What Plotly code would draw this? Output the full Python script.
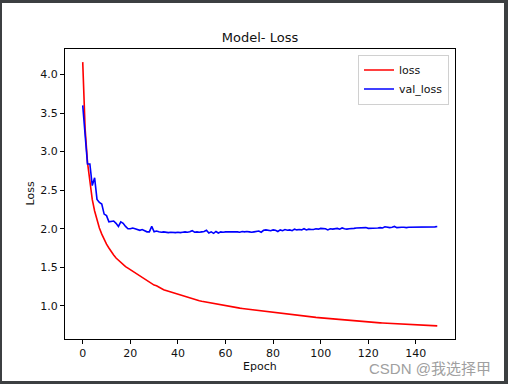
import plotly.graph_objects as go

loss = [
    4.16, 3.30, 2.86, 2.58, 2.38, 2.23, 2.11, 2.01, 1.93, 1.86,
    1.80, 1.75, 1.70, 1.66, 1.62, 1.59, 1.56, 1.53, 1.51, 1.49,
    1.47, 1.45, 1.43, 1.41, 1.38, 1.36, 1.34, 1.32, 1.31, 1.29,
    1.27, 1.26, 1.24, 1.23, 1.21, 1.20, 1.19, 1.18, 1.17, 1.16,
    1.15, 1.14, 1.13, 1.12, 1.11, 1.10, 1.09, 1.085, 1.077, 1.068,
    1.06, 1.054, 1.048, 1.041, 1.035, 1.03, 1.023, 1.017, 1.011, 1.005,
    1.00, 0.995, 0.99, 0.985, 0.98, 0.975, 0.971, 0.967, 0.963, 0.959,
    0.955, 0.951, 0.947, 0.943, 0.939, 0.935, 0.931, 0.927, 0.922, 0.919,
    0.915, 0.911, 0.907, 0.903, 0.899, 0.895, 0.891, 0.887, 0.883, 0.879,
    0.875, 0.872, 0.869, 0.866, 0.863, 0.860, 0.857, 0.854, 0.851, 0.848,
    0.845, 0.842, 0.839, 0.836, 0.833, 0.830, 0.828, 0.826, 0.824, 0.822,
    0.820, 0.817, 0.814, 0.811, 0.808, 0.805, 0.802, 0.799, 0.796, 0.793,
    0.790, 0.788, 0.786, 0.784, 0.782, 0.780, 0.778, 0.776, 0.774, 0.772,
    0.770, 0.768, 0.766, 0.764, 0.762, 0.760, 0.758, 0.757, 0.755, 0.754,
    0.752, 0.751, 0.749, 0.748, 0.746, 0.745, 0.744, 0.743, 0.742, 0.741,
]

val_loss = [
    3.60, 3.25, 2.84, 2.84, 2.56, 2.66, 2.38, 2.34, 2.32, 2.19,
    2.17, 2.09, 2.10, 2.10, 2.07, 2.03, 2.09, 2.07, 2.03, 2.00,
    2.00, 2.01, 2.00, 1.99, 1.98, 1.99, 1.97, 1.96, 1.96, 2.03,
    1.96, 1.97, 1.96, 1.955, 1.96, 1.955, 1.95, 1.955, 1.95, 1.95,
    1.955, 1.95, 1.955, 1.96, 1.955, 1.96, 1.975, 1.955, 1.96, 1.955,
    1.96, 1.965, 1.98, 1.945, 1.96, 1.94, 1.965, 1.945, 1.96, 1.955,
    1.96, 1.96, 1.965, 1.96, 1.965, 1.96, 1.955, 1.965, 1.96, 1.965,
    1.96, 1.955, 1.96, 1.965, 1.97, 1.955, 1.98, 1.985, 1.98, 1.975,
    1.985, 1.98, 1.965, 1.985, 1.975, 1.99, 1.98, 1.985, 1.975, 1.995,
    1.985, 1.99, 1.985, 2.00, 1.985, 1.995, 1.99, 1.99, 2.00, 1.995,
    2.005, 2.005, 2.00, 1.985, 2.00, 1.995, 2.00, 2.005, 1.995, 2.01,
    2.00, 1.995, 2.00, 2.00, 2.005, 2.01, 2.01, 2.015, 2.01, 2.015,
    2.005, 2.005, 2.01, 2.005, 2.01, 2.015, 2.01, 2.025, 2.015, 2.015,
    2.02, 2.03, 2.015, 2.02, 2.02, 2.02, 2.015, 2.02, 2.02, 2.025,
    2.02, 2.025, 2.02, 2.025, 2.02, 2.025, 2.025, 2.02, 2.025, 2.03,
]

epochs = list(range(len(loss)))
x_ticks = [0, 20, 40, 60, 80, 100, 120, 140]
y_ticks = [1.0, 1.5, 2.0, 2.5, 3.0, 3.5, 4.0]

W, H = 508, 384
L, R, T, B = 65, 455, 49, 339

fig = go.Figure()
fig.add_trace(go.Scatter(x=epochs, y=loss, mode="lines", name="loss",
                         line=dict(color="red", width=1.6)))
fig.add_trace(go.Scatter(x=epochs[:len(val_loss)], y=val_loss, mode="lines", name="val_loss",
                         line=dict(color="blue", width=1.6)))

font = "DejaVu Sans"
axis_common = dict(showgrid=False, zeroline=False, showline=True, mirror=True,
                   linecolor="black", linewidth=1, ticks="outside", ticklen=4,
                   tickwidth=1, tickcolor="black",
                   tickfont=dict(family=font, size=11, color="#111"))

fig.update_layout(
    width=W, height=H,
    margin=dict(l=L, r=W - R, t=T, b=H - B, pad=0),
    paper_bgcolor="#3c3f41",
    plot_bgcolor="white",
    font=dict(family=font, size=11, color="#111"),
    title=dict(text="Model- Loss", x=0.5, xref="paper", xanchor="center",
               y=1 - 37 / H, yref="container", yanchor="middle",
               font=dict(family=font, size=13, color="#111")),
    xaxis=dict(range=[-7.45, 156.45], tickvals=x_ticks, **axis_common),
    yaxis=dict(range=[0.571, 4.33], tickvals=y_ticks, tickformat=".1f", **axis_common),
    legend=dict(x=(449 - L) / (R - L), y=(B - 54.5) / (B - T), xanchor="right", yanchor="top",
                bgcolor="rgba(255,255,255,0.9)", bordercolor="#d0d0d0", borderwidth=1,
                itemwidth=30,
                font=dict(family=font, size=11, color="#111"), tracegroupgap=0),
    showlegend=True,
    shapes=[dict(type="rect", xref="paper", yref="paper",
                 x0=(2 - L) / (R - L), x1=(504 - L) / (R - L),
                 y0=(B - 381) / (B - T), y1=(B - 3) / (B - T),
                 fillcolor="white", line=dict(width=0), layer="below")],
    annotations=[
        dict(text="Loss", xref="paper", yref="paper", x=(29.5 - L) / (R - L),
             y=(B - 194) / (B - T), textangle=-90, showarrow=False,
             xanchor="center", yanchor="middle",
             font=dict(family=font, size=11, color="#111")),
        dict(text="Epoch", xref="paper", yref="paper", x=0.5,
             y=(B - 366.5) / (B - T), showarrow=False,
             xanchor="center", yanchor="middle",
             font=dict(family=font, size=11, color="#111")),
        dict(text="CSDN @我选择甲", xref="paper", yref="paper", x=(493 - L) / (R - L),
             y=(B - 368) / (B - T), showarrow=False,
             xanchor="right", yanchor="middle",
             font=dict(family="Liberation Sans, Noto Sans CJK SC", size=15, color="#a0a0a0")),
    ],
)

fig.write_html("out.html", config={"displayModeBar": False},
               post_script="document.body.style.margin='0';document.body.style.overflow='hidden';")
